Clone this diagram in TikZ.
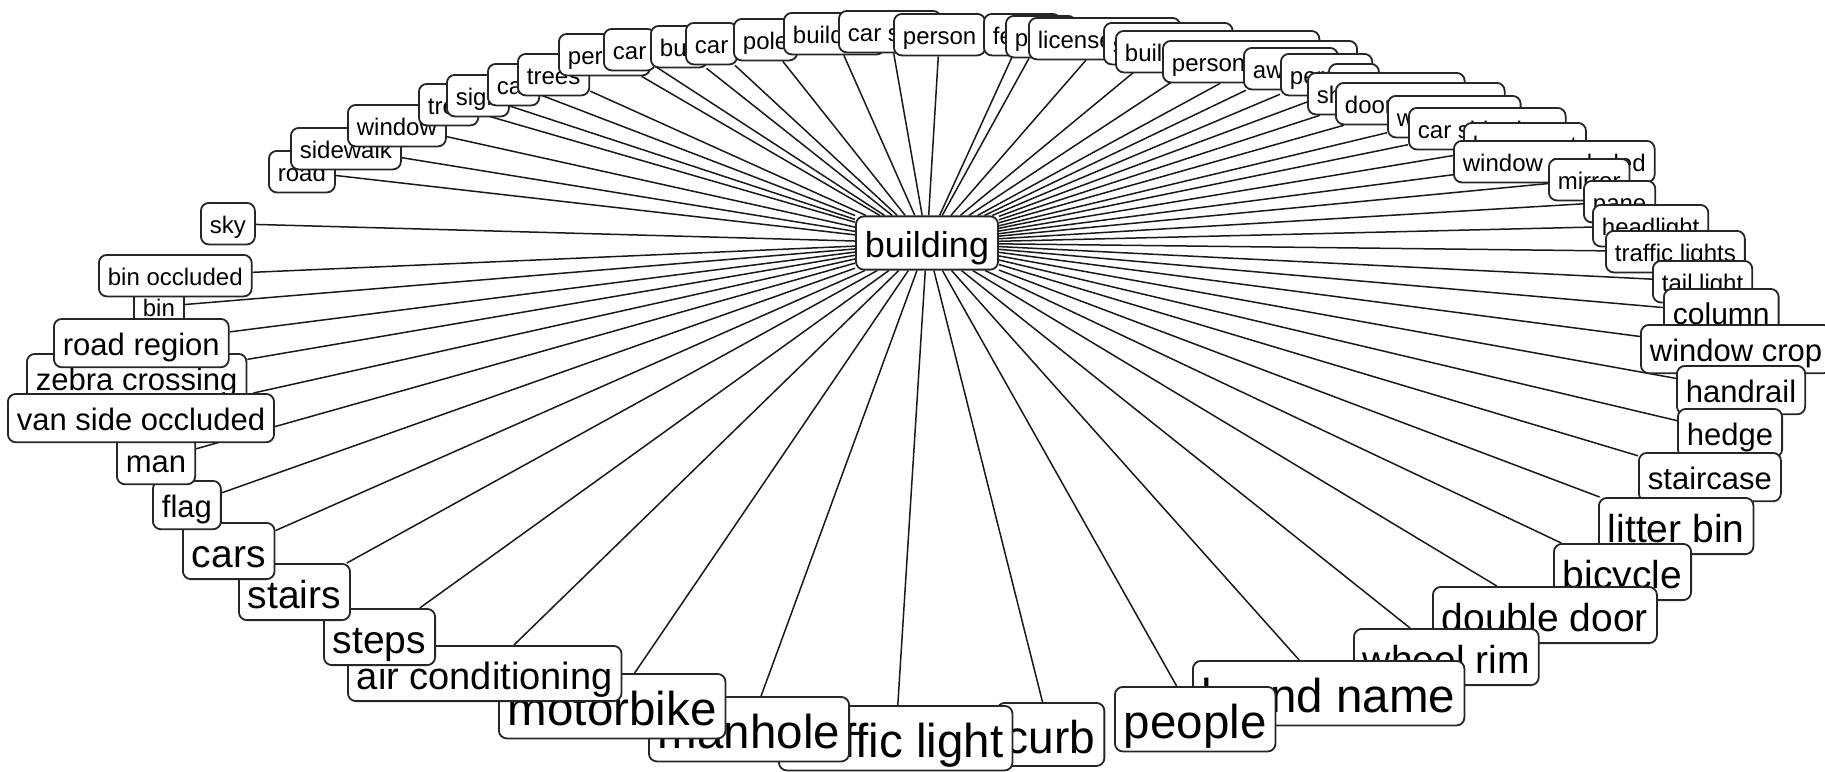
\documentclass[tikz,border=0pt]{standalone}
\usepackage{fontspec}
\setmainfont{Liberation Sans}
\usetikzlibrary{backgrounds}
\begin{document}
\begin{tikzpicture}[x=1pt,y=-1pt,
  lab/.style={draw=black!85, line width=1.8pt, fill=white, rounded corners=8pt, anchor=north west,
    font=\fontsize{#1}{#1}\selectfont, text height=#1*0.9pt, text depth=#1*0.08pt,
    inner xsep=9pt, inner ysep=9pt},
  spoke/.style={line width=1.5pt, draw=black!90}]
\useasboundingbox (0,0) rectangle (1825,771);
\node[lab=24] (n1) at (268,150) {road};
\node[lab=24] (n2) at (290,127) {sidewalk};
\node[lab=24] (n3) at (347,104) {window};
\node[lab=24] (n4) at (418,83) {tree};
\node[lab=24] (n5) at (446,74) {sign};
\node[lab=24] (n6) at (487,63) {car};
\node[lab=24] (n7) at (517,53) {trees};
\node[lab=24] (n8) at (558,33) {person};
\node[lab=24] (n9) at (603,28) {car};
\node[lab=24] (n10) at (650,25) {bus};
\node[lab=24] (n11) at (685,22) {car};
\node[lab=24] (n12) at (733,18) {pole};
\node[lab=24] (n13) at (783,12) {building};
\node[lab=24] (n14) at (838,10) {car side};
\node[lab=24] (n15) at (893,13) {person};
\node[lab=24] (n16) at (983,13) {fence};
\node[lab=24] (n17) at (1005,15) {plant};
\node[lab=24] (n18) at (1028,17) {license plate};
\node[lab=24] (n19) at (1103,22) {street light};
\node[lab=24] (n20) at (1115,30) {building occluded};
\node[lab=24] (n21) at (1162,40) {person occluded};
\node[lab=24] (n22) at (1243,47) {awning};
\node[lab=24] (n23) at (1280,53) {person};
\node[lab=24] (n24) at (1328,63) {bin};
\node[lab=24] (n25) at (1307,72) {shop window};
\node[lab=24] (n26) at (1335,82) {door occluded};
\node[lab=24] (n27) at (1387,95) {window sill};
\node[lab=24] (n28) at (1408,107) {car side door};
\node[lab=24] (n29) at (1463,122) {lamp post};
\node[lab=24] (n30) at (1453,140) {window occluded};
\node[lab=24] (n31) at (1548,158) {mirror};
\node[lab=24] (n32) at (1583,180) {pane};
\node[lab=24] (n33) at (1592,204) {headlight};
\node[lab=24] (n34) at (1605,230) {traffic lights};
\node[lab=24] (n35) at (1652,260) {tail light};
\node[lab=30] (n36) at (1663,288) {column};
\node[lab=31] (n37) at (1640,324) {window crop};
\node[lab=31] (n38) at (1676,365) {handrail};
\node[lab=31] (n39) at (1677,408) {hedge};
\node[lab=31] (n40) at (1638,452) {staircase};
\node[lab=39] (n41) at (1598,497) {litter bin};
\node[lab=39] (n42) at (1553,543) {bicycle};
\node[lab=39] (n43) at (1432,586) {double door};
\node[lab=39] (n44) at (1353,628) {wheel rim};
\node[lab=47.5] (n45) at (1192,660) {brand name};
\node[lab=47.5] (n46) at (1114,686) {people};
\node[lab=46] (n47) at (996,702) {curb};
\node[lab=47.5] (n48) at (778,705) {traffic light};
\node[lab=47.5] (n49) at (648,696) {manhole};
\node[lab=47.5] (n50) at (498,673) {motorbike};
\node[lab=38] (n51) at (347,645) {air conditioning};
\node[lab=39] (n52) at (323,608) {steps};
\node[lab=39] (n53) at (238,563) {stairs};
\node[lab=39] (n54) at (182,522) {cars};
\node[lab=31] (n55) at (152,480) {flag};
\node[lab=31] (n56) at (116,435) {man};
\node[lab=31] (n58) at (26,353) {zebra crossing};
\node[lab=31] (n57) at (7,393) {van side occluded};
\node[lab=24] (n60) at (133,285) {bin};
\node[lab=31] (n59) at (53,318) {road region};
\node[lab=24] (n61) at (98,254) {bin occluded};
\node[lab=24] (n62) at (200,202) {sky};
\node[lab=36, anchor=center] (b) at (927,243) {building};
\begin{pgfonlayer}{background}
\foreach \i in {1,...,62} \draw[spoke] (b) -- (n\i);
\end{pgfonlayer}
\end{tikzpicture}
\end{document}
